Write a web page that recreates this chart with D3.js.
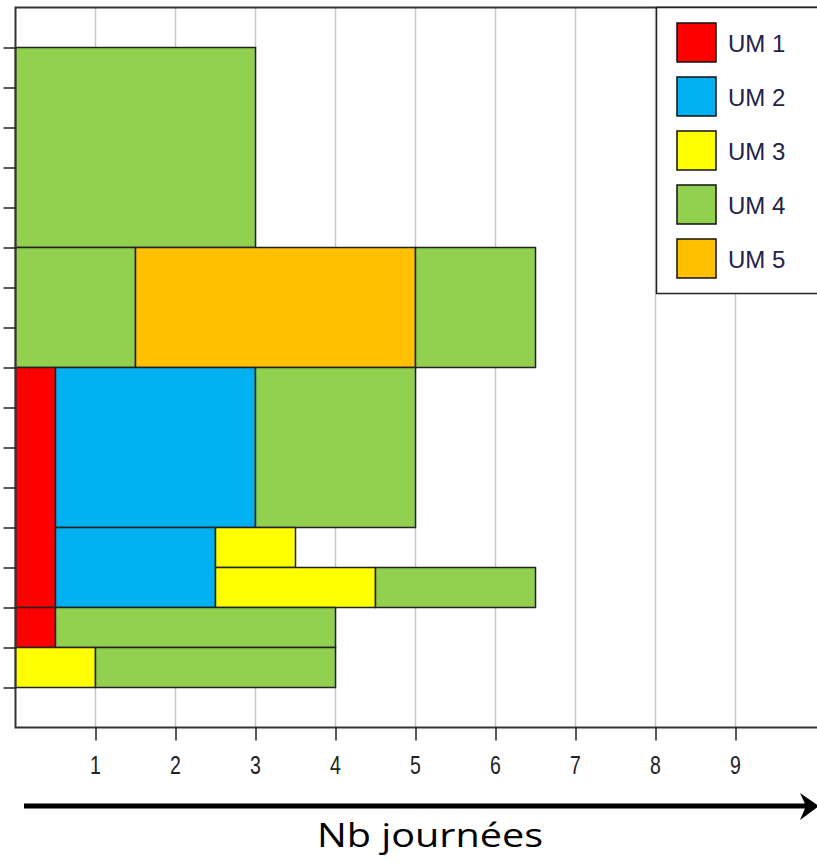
<!DOCTYPE html>
<html>
<head>
<meta charset="utf-8">
<script src="https://cdn.jsdelivr.net/npm/d3@7"></script>
<style>
  body { margin: 0; background: #fff; }
  svg { display: block; }
</style>
</head>
<body>
<svg id="chart" width="817" height="863"></svg>
<script>
// units and their colours
var units = ["UM 1", "UM 2", "UM 3", "UM 4", "UM 5"];
var unitColors = ["#FF0000", "#00B0F0", "#FFFF00", "#92D050", "#FFC000"];

// blocks: unit, start/end day (x), start/end row (y)
var blockUnit = ["UM 4", "UM 4", "UM 5", "UM 4", "UM 1", "UM 2", "UM 4", "UM 2", "UM 3", "UM 3", "UM 4", "UM 1", "UM 4", "UM 3", "UM 4"];
var blockX0   = [0,      0,      1.5,    5,      0,      0.5,    3,      0.5,    2.5,    2.5,    4.5,    0,      0.5,    0,      1];
var blockX1   = [3,      1.5,    5,      6.5,    0.5,    3,      5,      2.5,    3.5,    4.5,    6.5,    0.5,    4,      1,      4];
var blockY0   = [12,     9,      9,      9,      3,      5,      5,      3,      4,      3,      3,      2,      2,      1,      1];
var blockY1   = [17,     12,     12,     12,     9,      9,      9,      5,      5,      4,      4,      3,      3,      2,      2];

var xTicks = [1, 2, 3, 4, 5, 6, 7, 8, 9];
var yTicks = d3.range(1, 18);

function draw() {
    var svg = d3.select("#chart");
    var pLeft = 15.5, pTop = 7.5, pRight = 820, pBottom = 727.5;

    var x = d3.scaleLinear().domain([0, 10]).range([pLeft, pLeft + 800]);
    var y = d3.scaleLinear().domain([0, 18]).range([pBottom, pTop]);
    var color = d3.scaleOrdinal().domain(units).range(unitColors);

    // grid lines
    svg.append("g").selectAll("line").data(xTicks).enter().append("line")
        .attr("x1", function(d) { return x(d); }).attr("x2", function(d) { return x(d); })
        .attr("y1", pTop).attr("y2", pBottom)
        .attr("stroke", "#c8c8c8").attr("stroke-width", 1.5);

    // blocks
    var blocks = blockUnit.map(function(d, i) {
        return { unit: d, x0: blockX0[i], x1: blockX1[i], y0: blockY0[i], y1: blockY1[i] };
    });
    svg.append("g").selectAll("rect").data(blocks).enter().append("rect")
        .attr("x", function(d) { return x(d.x0); })
        .attr("y", function(d) { return y(d.y1); })
        .attr("width", function(d) { return x(d.x1) - x(d.x0); })
        .attr("height", function(d) { return y(d.y0) - y(d.y1); })
        .attr("fill", function(d) { return color(d.unit); })
        .attr("stroke", "#222").attr("stroke-width", 1.5);

    // frame
    svg.append("rect")
        .attr("x", pLeft).attr("y", pTop)
        .attr("width", pRight - pLeft).attr("height", pBottom - pTop)
        .attr("fill", "none").attr("stroke", "#333").attr("stroke-width", 2);

    // x axis
    var xAxis = svg.append("g").attr("transform", "translate(0," + pBottom + ")")
        .call(d3.axisBottom(x).tickValues(xTicks).tickSize(13).tickPadding(0).tickFormat(""));
    xAxis.select(".domain").remove();
    xAxis.selectAll("line").attr("stroke", "#222").attr("stroke-width", 1.5);
    // tick labels: a bit condensed and tall, like the picture
    svg.append("g").selectAll("text").data(xTicks).enter().append("text")
        .attr("transform", function(d) { return "translate(" + x(d) + ",774) scale(0.85,1.1)"; })
        .attr("text-anchor", "middle")
        .attr("font-family", "Liberation Sans, Arial, sans-serif")
        .attr("font-size", 23).attr("fill", "#222")
        .text(function(d) { return d; });

    // y axis (ticks only)
    var yAxis = svg.append("g").attr("transform", "translate(" + pLeft + ",0)")
        .call(d3.axisLeft(y).tickValues(yTicks).tickSize(12).tickFormat(""));
    yAxis.select(".domain").remove();
    yAxis.selectAll("line").attr("stroke", "#222").attr("stroke-width", 1.5);

    // legend
    var legend = svg.append("g");
    legend.append("rect")
        .attr("x", 656.5).attr("y", pTop).attr("width", 170).attr("height", 286)
        .attr("fill", "#fff").attr("stroke", "#222").attr("stroke-width", 1.5);
    var items = legend.selectAll("g.item").data(units).enter().append("g")
        .attr("transform", function(d, i) { return "translate(677," + (23 + i * 54) + ")"; });
    items.append("rect")
        .attr("width", 39).attr("height", 39)
        .attr("fill", function(d) { return color(d); })
        .attr("stroke", "#111").attr("stroke-width", 1.5);
    items.append("text")
        .attr("x", 51).attr("y", 20).attr("dy", "0.36em")
        .attr("font-family", "Liberation Sans, Arial, sans-serif")
        .attr("font-size", 24).attr("fill", "#22224a")
        .text(function(d) { return d; });

    // arrow + title
    svg.append("line")
        .attr("x1", 24).attr("x2", 806).attr("y1", 806).attr("y2", 806)
        .attr("stroke", "#000").attr("stroke-width", 5);
    svg.append("path")
        .attr("d", "M800,793 L819,806 L800,820 L806,806 Z")
        .attr("fill", "#000");
    svg.append("text")
        .attr("transform", "translate(430,847) scale(1.2,1)")
        .attr("text-anchor", "middle")
        .attr("font-family", "Open Sans, sans-serif")
        .attr("font-size", 33).attr("fill", "#000")
        .text("Nb journées");
}

draw();
</script>
</body>
</html>
